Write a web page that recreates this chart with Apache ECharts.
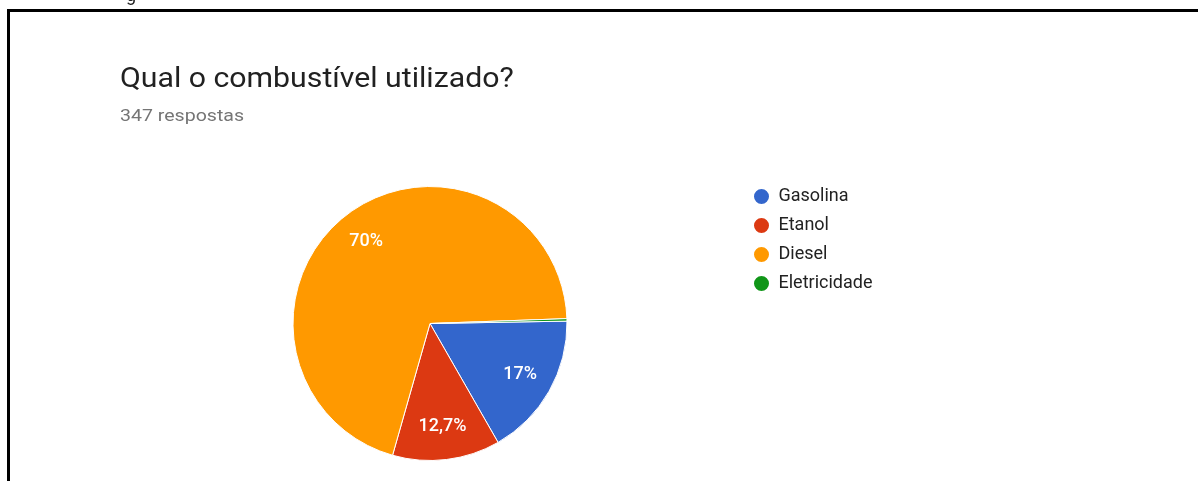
<!DOCTYPE html>
<html><head><meta charset="utf-8">
<script src="https://cdn.jsdelivr.net/npm/echarts@6/dist/echarts.min.js"></script>
<style>html,body{margin:0;padding:0;background:#fff}#c{width:1198px;height:481px}</style>
</head><body><div id="c"></div>
<script>
const categories = ['Gasolina', 'Etanol', 'Diesel', 'Eletricidade'];
const counts = [59, 44, 243, 1];
const percentLabels = ['17%', '12,7%', '70%', ''];
const colors = ['#3366cc', '#dc3912', '#ff9900', '#109618'];
const titleText = 'Qual o combustível utilizado?';
const subText = '347 respostas';

const chart = echarts.init(document.getElementById('c'), null, {renderer: 'canvas'});
const data = categories.map((n, i) => ({name: n, value: counts[i], itemStyle: {color: colors[i]}}));
const cx = 430, cy = 323.5, R = 137;
chart.setOption({
  animation: false,
  backgroundColor: '#fff',
  legend: {
    orient: 'vertical', left: 752, top: 187, padding: 0, icon: 'circle', itemWidth: 18, itemHeight: 17,
    itemGap: 10, data: categories,
    textStyle: {fontFamily: 'Roboto', fontSize: 18, lineHeight: 18, color: '#222222', padding: [0, 0, 0, 3]}
  },
  graphic: [
    {type: 'rect', shape: {x: 7, y: 9, width: 1191, height: 3}, style: {fill: '#000'}},
    {type: 'rect', shape: {x: 7, y: 9, width: 3, height: 472}, style: {fill: '#000'}},
    {type: 'text', left: 126, top: -13, style: {text: 'g', font: '18px Roboto', fill: '#222'}},
    {type: 'text', x: 120, y: 80, scaleX: 1.12, style: {text: titleText, x: 0, y: 0,
      verticalAlign: 'middle', align: 'left', font: '27px Roboto', fill: '#212121'}},
    {type: 'text', x: 120, y: 116.5, scaleX: 1.15, style: {text: subText, x: 0, y: 0,
      verticalAlign: 'middle', align: 'left', font: '17px Roboto', fill: '#757575'}}
  ],
  series: [
    {
      type: 'pie', center: [cx, cy], radius: [0, R], startAngle: 1, clockwise: true,
      avoidLabelOverlap: false, silent: true,
      itemStyle: {borderColor: '#fff', borderWidth: 1},
      label: {show: false}, labelLine: {show: false},
      data: data
    },
    {
      type: 'pie', center: [cx, cy], radius: [R * 0.47, R], startAngle: 1, clockwise: true,
      avoidLabelOverlap: false, silent: true, legendHoverLink: false,
      itemStyle: {color: 'transparent', borderWidth: 0},
      label: {show: true, position: 'inside', formatter: p => percentLabels[p.dataIndex],
        fontFamily: 'Roboto', fontSize: 18, fontWeight: 500, color: '#fff'},
      labelLine: {show: false},
      data: categories.map((n, i) => ({name: n + ' ', value: counts[i]}))
    }
  ]
});
</script></body></html>
